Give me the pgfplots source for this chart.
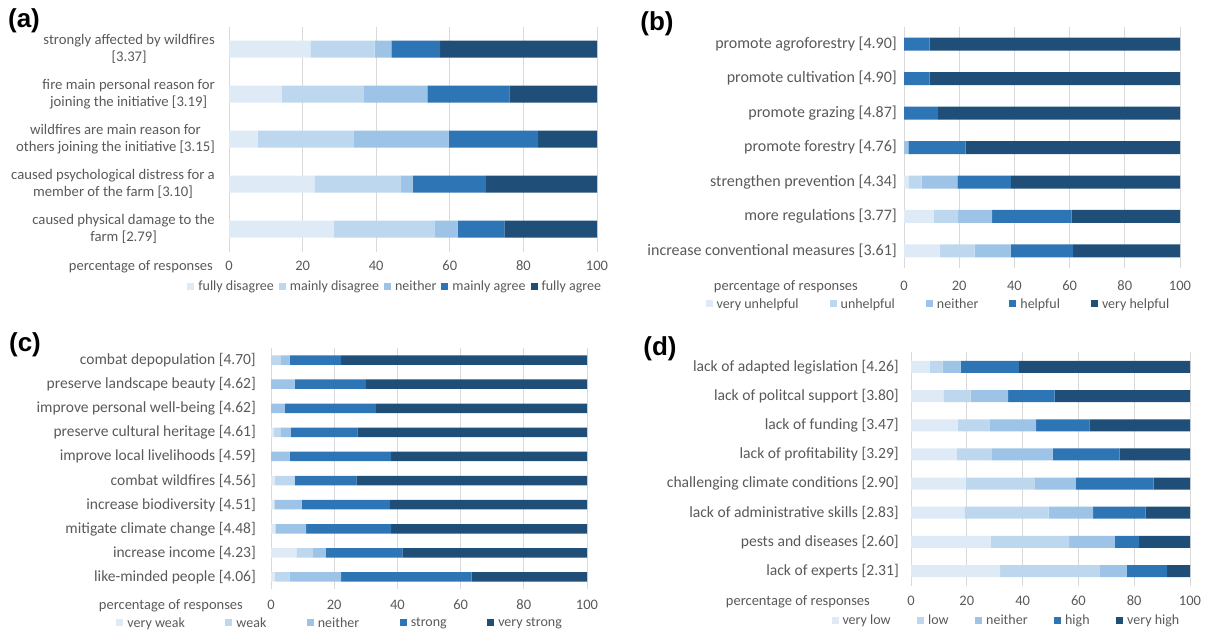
\documentclass[border=0pt]{standalone}
\usepackage{pgfplots}
\pgfplotsset{compat=1.18}
\usepackage{fontspec}
\setmainfont{Carlito}
\newfontfamily\letterfont{Liberation Sans}
\definecolor{c1}{HTML}{DEEBF7}
\definecolor{c2}{HTML}{BDD7EE}
\definecolor{c3}{HTML}{9DC3E6}
\definecolor{c4}{HTML}{2E75B6}
\definecolor{c5}{HTML}{1F4E79}
\definecolor{txt}{HTML}{595959}
\definecolor{grd}{HTML}{D9D9D9}
\pgfplotsset{
  sq/.style={legend image code/.code={\fill[##1] (0pt,-3.5pt) rectangle (7pt,3.5pt); \path (9.5pt,0pt);}},
  s1/.style={fill=c1, draw=none, sq},
  s2/.style={fill=c2, draw=none, sq},
  s3/.style={fill=c3, draw=none, sq},
  s4/.style={fill=c4, draw=none, sq},
  s5/.style={fill=c5, draw=none, sq},
  panel/.style={
    scale only axis,
    xbar stacked,
    xmin=0, xmax=100,
    xtick={0,20,...,100},
    axis lines*=left,
    x axis line style={draw=none},
    y axis line style={draw=grd, line width=0.8pt},
    major tick length=0pt,
    xmajorgrids,
    grid style={draw=grd, line width=0.8pt},
    xticklabel style={font=\fontsize{14.5}{16.5}\selectfont, text=txt},
    yticklabel style={text=txt},
    /pgf/number format/assume math mode=true,
    legend columns=5,
    legend cell align=left,
    legend style={draw=none, fill=none, anchor=center, inner sep=0pt,
      font=\fontsize{14}{16}\selectfont, text=txt,
      nodes={inner xsep=1.5pt, inner ysep=1pt}},
  },
}
\begin{document}
\begin{tikzpicture}
\path[use as bounding box] (0pt,0pt) rectangle (1207pt,-630pt);
% ---------------- (a)
\begin{axis}[panel, at={(229pt,-26.5pt)}, anchor=north west,
  width=368pt, height=225pt, ymin=-0.5, ymax=4.5, bar width=17pt,
  ytick={0,...,4},
  xticklabel style={anchor=mid, inner sep=0pt, yshift=-16.5pt},
  yticklabel style={font=\fontsize{14.7}{16.5}\selectfont, anchor=east, inner sep=0pt, align=center, xshift=-14pt},
  yticklabels={{caused physical damage to the\\{}farm [2.79]},
    {caused psychological distress for a\\{}member of the farm [3.10]},
    {wildfires are main reason for\\{}others joining the initiative [3.15]},
    {fire main personal reason for\\{}joining the initiative [3.19]},
    {strongly affected by wildfires\\{}[3.37]}},
  legend style={at={(axis description cs:0.451,-0.1533)},
    /tikz/every even column/.append style={column sep=3.5pt}},
]
\addplot[s1] coordinates {(28.6,0) (23.2,1) (7.8,2) (14.4,3) (22.1,4)};
\addplot[s2] coordinates {(27.2,0) (23.6,1) (26.0,2) (22.1,3) (17.5,4)};
\addplot[s3] coordinates {(6.3,0) (3.1,1) (25.9,2) (17.4,3) (4.5,4)};
\addplot[s4] coordinates {(12.7,0) (19.9,1) (24.3,2) (22.3,3) (13.3,4)};
\addplot[s5] coordinates {(25.2,0) (30.2,1) (16.0,2) (23.8,3) (42.6,4)};
\legend{fully disagree, mainly disagree, neither, mainly agree, fully agree}
\end{axis}
% ---------------- (b)
\begin{axis}[panel, at={(904pt,-26.75pt)}, anchor=north west,
  width=276pt, height=241.5pt, ymin=-0.5, ymax=6.5, bar width=13pt,
  ytick={0,...,6},
  xticklabel style={anchor=mid, inner sep=0pt, yshift=-19.75pt},
  yticklabel style={font=\fontsize{16}{17}\selectfont, anchor=east, inner sep=0pt, xshift=-7pt},
  yticklabels={increase conventional measures [3.61], more regulations [3.77],
    strengthen prevention [4.34], promote forestry [4.76], promote grazing [4.87],
    promote cultivation [4.90], promote agroforestry [4.90]},
  legend style={at={(axis description cs:0.124,-0.148)},
    /tikz/every even column/.append style={column sep=29.5pt}},
]
\addplot[s1] coordinates {(12.9,0) (10.7,1) (1.6,2) (0,3) (0,4) (0,5) (0,6)};
\addplot[s2] coordinates {(12.7,0) (8.8,1) (4.8,2) (0,3) (0,4) (0,5) (0,6)};
\addplot[s3] coordinates {(13.0,0) (12.4,1) (12.9,2) (1.6,3) (0,4) (0,5) (0,6)};
\addplot[s4] coordinates {(22.7,0) (28.8,1) (19.4,2) (20.7,3) (12.4,4) (9.3,5) (9.3,6)};
\addplot[s5] coordinates {(38.7,0) (39.3,1) (61.3,2) (77.7,3) (87.6,4) (90.7,5) (90.7,6)};
\legend{very unhelpful, unhelpful, neither, helpful, very helpful}
\end{axis}
% ---------------- (c)
\begin{axis}[panel, at={(271pt,-348pt)}, anchor=north west,
  width=316pt, height=241pt, ymin=-0.5, ymax=9.5, bar width=9.5pt,
  ytick={0,...,9},
  xticklabel style={anchor=mid, inner sep=0pt, yshift=-18pt},
  yticklabel style={font=\fontsize{15.5}{17}\selectfont, anchor=east, inner sep=0pt, xshift=-15pt},
  yticklabels={like-minded people [4.06], increase income [4.23],
    mitigate climate change [4.48], increase biodiversity [4.51],
    combat wildfires [4.56], improve local livelihoods [4.59],
    preserve cultural heritage [4.61], improve personal well-being [4.62],
    preserve landscape beauty [4.62], combat depopulation [4.70]},
  legend style={at={(axis description cs:0.218,-0.141)},
    /tikz/every even column/.append style={column sep=39pt}},
]
\addplot[s1] coordinates {(1.2,0) (8.0,1) (1.4,2) (1.1,3) (1.2,4) (0,5) (1.0,6) (0,7) (0,8) (0,9)};
\addplot[s2] coordinates {(4.7,0) (5.3,1) (0,2) (0,3) (6.3,4) (0,5) (2.0,6) (0,7) (0,8) (3.0,9)};
\addplot[s3] coordinates {(16.3,0) (4.1,1) (9.7,2) (8.6,3) (0,4) (5.9,5) (3.3,6) (4.4,7) (7.5,8) (2.9,9)};
\addplot[s4] coordinates {(41.3,0) (24.2,1) (26.9,2) (27.9,3) (19.5,4) (32.1,5) (21.0,6) (28.8,7) (22.5,8) (16.3,9)};
\addplot[s5] coordinates {(36.5,0) (58.4,1) (62.0,2) (62.4,3) (73.0,4) (62.0,5) (72.7,6) (66.8,7) (70.0,8) (77.8,9)};
\legend{very weak, weak, neither, strong, very strong}
\end{axis}
% ---------------- (d)
\begin{axis}[panel, at={(911pt,-352.4pt)}, anchor=north west,
  width=279pt, height=233.2pt, ymin=-0.5, ymax=7.5, bar width=12pt,
  ytick={0,...,7},
  xticklabel style={anchor=mid, inner sep=0pt, yshift=-17.4pt},
  yticklabel style={font=\fontsize{15.6}{17}\selectfont, anchor=east, inner sep=0pt, xshift=-12pt},
  yticklabels={lack of experts [2.31], pests and diseases [2.60],
    lack of administrative skills [2.83], challenging climate conditions [2.90],
    lack of profitability [3.29], lack of funding [3.47],
    lack of politcal support [3.80], lack of adapted legislation [4.26]},
  legend style={at={(axis description cs:0.341,-0.1475)},
    /tikz/every even column/.append style={column sep=25pt}},
]
\addplot[s1] coordinates {(31.9,0) (28.6,1) (19.1,2) (19.6,3) (16.4,4) (16.7,5) (11.6,6) (6.7,7)};
\addplot[s2] coordinates {(35.6,0) (28.1,1) (30.2,2) (24.6,3) (12.4,4) (11.4,5) (9.8,6) (4.6,7)};
\addplot[s3] coordinates {(9.8,0) (16.4,1) (16.0,2) (14.9,3) (22.0,4) (16.7,5) (13.4,6) (6.5,7)};
\addplot[s4] coordinates {(14.5,0) (8.7,1) (18.8,2) (27.9,3) (24.0,4) (19.1,5) (16.7,6) (20.9,7)};
\addplot[s5] coordinates {(8.2,0) (18.2,1) (15.9,2) (13.0,3) (25.2,4) (36.1,5) (48.5,6) (61.3,7)};
\legend{very low, low, neither, high, very high}
\end{axis}
% ---------------- texts
\begin{scope}[every node/.style={font=\fontsize{14.5}{16}\selectfont, text=txt, inner sep=0pt}]
\node[anchor=mid east] at (213pt,-268pt) {percentage of responses};
\node[anchor=mid east] at (858pt,-288pt) {percentage of responses};
\node[anchor=mid east] at (243pt,-607pt) {percentage of responses};
\node[anchor=mid east] at (870pt,-603pt) {percentage of responses};
\end{scope}
\begin{scope}[every node/.style={font=\letterfont\bfseries\fontsize{26}{26}\selectfont, inner sep=0pt}]
\node at (24pt,-21pt) {(a)};
\node at (657pt,-24pt) {(b)};
\node at (25pt,-345pt) {(c)};
\node at (660pt,-349pt) {(d)};
\end{scope}
\end{tikzpicture}
\end{document}
